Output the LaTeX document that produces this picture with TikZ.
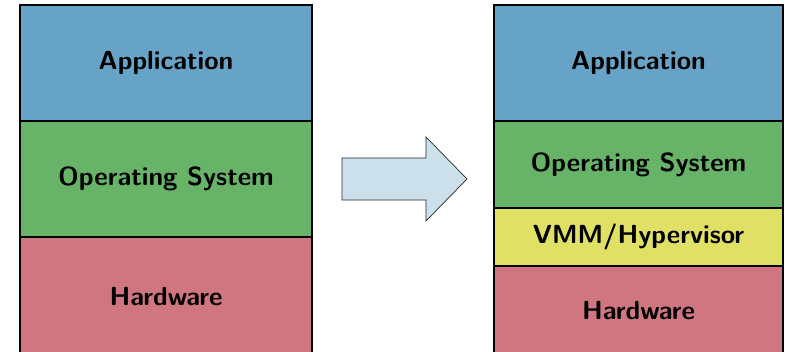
\documentclass[tikz,border=0pt]{standalone}
\usepackage{tikz}
\usetikzlibrary{positioning}
\definecolor{appblue}{RGB}{103,163,198}
\definecolor{osgreen}{RGB}{103,180,104}
\definecolor{hwred}{RGB}{208,118,128}
\definecolor{vmmyellow}{RGB}{224,224,100}
\definecolor{arrowblue}{RGB}{204,224,235}

\begin{document}
\begin{tikzpicture}[x=0.025cm,y=-0.025cm]
\tikzstyle{layer}=[rectangle, draw=black, line width=0.9pt, outer sep=0pt, inner sep=0pt, font=\sffamily\bfseries\fontsize{18.6}{22}\selectfont]
\tikzstyle{leftlayer}=[layer, minimum width=7.3cm]
\tikzstyle{rightlayer}=[layer, minimum width=7.225cm]
\tikzstyle{bigarrow}=[draw=black!85, line width=0.5pt, fill=arrowblue, line join=miter]
\useasboundingbox (0,0) rectangle (785,352);

	% left stack
	\node[leftlayer, fill=appblue, minimum height=2.9cm, anchor=north west] (app_1) at (20,5) {Application};
	\node[leftlayer, fill=osgreen, minimum height=2.9cm, below=0pt of app_1] (os_1) {Operating System};
	\node[leftlayer, fill=hwred, minimum height=2.95cm, below=0pt of os_1] (hw_1) {Hardware};

	% right stack
	\node[rightlayer, fill=appblue, minimum height=2.9cm, anchor=north west] (app_2) at (494,5) {Application};
	\node[rightlayer, fill=osgreen, minimum height=2.175cm, below=0pt of app_2] (os_2) {Operating System};
	\node[rightlayer, fill=vmmyellow, minimum height=1.45cm, below=0pt of os_2] (vmm_2) {VMM/Hypervisor};
	\node[rightlayer, fill=hwred, minimum height=2.2cm, below=0pt of vmm_2] (hw_2) {Hardware};

	% arrow
	\draw[bigarrow] (342,158) -- (426,158) -- (426,137) -- (467,179)
		-- (426,221) -- (426,200) -- (342,200) -- cycle;
\end{tikzpicture}
\end{document}
